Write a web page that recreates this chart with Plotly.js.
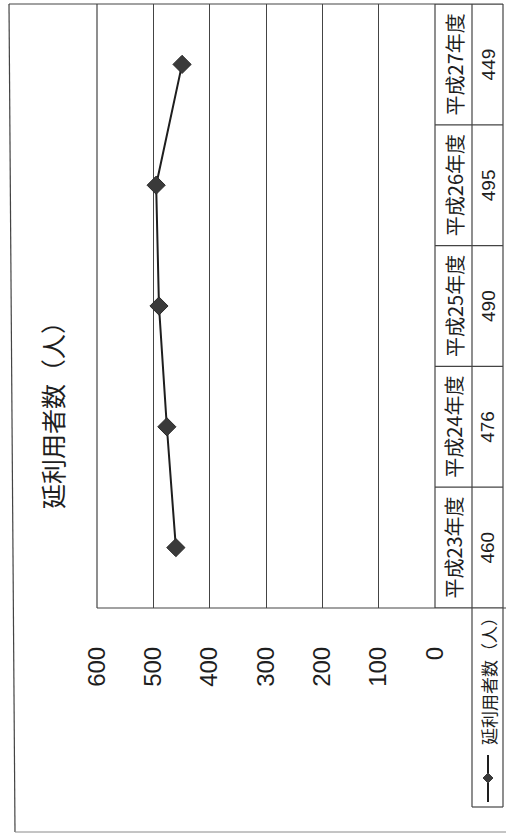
<!DOCTYPE html>
<html>
<head>
<meta charset="utf-8">
<script src="https://cdn.plot.ly/plotly-3.0.1.min.js"></script>
<style>
  html, body { margin: 0; padding: 0; background: #ffffff; }
  #chart { width: 506px; height: 834px; }
</style>
</head>
<body>
<div id="chart"></div>
<script>
// ---- data ----
const categories = ['平成23年度', '平成24年度', '平成25年度', '平成26年度', '平成27年度'];
const values = [460, 476, 490, 495, 449];
const seriesName = '延利用者数（人）';
const chartTitle = '延利用者数（人）';
const tickValues = [0, 100, 200, 300, 400, 500, 600];
const tickLabels = ['0', '100', '200', '300', '400', '500', '600'];

// ---- layout geometry (pixels in the 506x834 page) ----
const W = 506, H = 834;
const plotL = 97, plotR = 435, plotT = 4, plotB = 608;
const pw = plotR - plotL, ph = plotB - plotT;
const px = v => (v - plotL) / pw;          // page x -> paper x
const py = v => (plotB - v) / ph;          // page y -> paper y

const ink = '#1e1e1e';
const lineCol = '#444444';
const cjk = '"Noto Sans CJK JP", "Noto Sans", sans-serif';
const digits = '"Liberation Sans", Arial, sans-serif';

const colA = px(plotR), colB = px(472), colC = px(503);

const shapes = [];
const L = (x0, y0, x1, y1, extra) => Object.assign({type:'line', xref:'paper', yref:'paper', x0, y0, x1, y1, line:{color:lineCol, width:1.2}}, extra || {});
// outer frame
shapes.push(L(px(9), 1, px(15), py(832)));
shapes.push(L(px(9), 1, colC, 1));
shapes.push(L(px(15), py(832), px(506), py(832), {line:{color:'#8a8a8a', width:1}}));
// plot left border (600 line) and bottom extended through table
shapes.push(L(0, 0, 0, 1));
shapes.push(L(0, 0, px(506), 0));
// table verticals
shapes.push(L(colA, 0, colA, 1));
shapes.push(L(colB, py(807), colB, 1));
shapes.push(L(colC, py(807), colC, 1));
// legend cell bottom
shapes.push(L(colB, py(807), colC, py(807)));
// table row dividers at category boundaries
for (let i = 0; i <= categories.length; i++) {
  shapes.push({type:'line', xref:'paper', yref:'y', x0:colA, x1:colC, y0:i - 0.5, y1:i - 0.5, line:{color:lineCol, width:1.2}});
}
// legend key: line + diamond
const keyX = px(488);
shapes.push(L(keyX, py(755), keyX, py(802), {line:{color:ink, width:2}}));
shapes.push({type:'path', xref:'paper', yref:'paper', xsizemode:'pixel', ysizemode:'pixel',
  xanchor:keyX, yanchor:py(778), path:'M 0 5 L 5 0 L 0 -5 L -5 0 Z',
  fillcolor:'#3a3a3a', line:{color:'#3a3a3a', width:1}});

const annotations = [];
// title
annotations.push({text: chartTitle, xref:'paper', yref:'paper', x:px(52), y:py(409), showarrow:false,
  textangle:-90, font:{family:cjk, size:25, color:ink}, xanchor:'center', yanchor:'middle'});
// table texts
categories.forEach((c, i) => {
  annotations.push({text:c, xref:'paper', yref:'y', x:px(454), y:i, showarrow:false, textangle:-90,
    font:{family:cjk, size:20, color:ink}, xanchor:'center', yanchor:'middle'});
  annotations.push({text:String(values[i]), xref:'paper', yref:'y', x:px(488), y:i, showarrow:false, textangle:-90,
    font:{family:digits, size:19, color:ink}, xanchor:'center', yanchor:'middle'});
});
// legend text
annotations.push({text: seriesName, xref:'paper', yref:'paper', x:px(488), y:py(677), showarrow:false, textangle:-90,
  font:{family:cjk, size:17, color:ink}, xanchor:'center', yanchor:'middle'});

const trace = {
  type:'scatter', mode:'lines+markers', name: seriesName,
  x: values, y: categories,
  line:{color:ink, width:2},
  marker:{symbol:'diamond', size:14, color:'#3a3a3a', line:{color:'#2a2a2a', width:1}},
  showlegend:false, cliponaxis:false
};

const layout = {
  width: W, height: H,
  margin: {l: plotL, r: W - plotR, t: plotT, b: H - plotB, pad: 0},
  paper_bgcolor: '#ffffff', plot_bgcolor: '#ffffff',
  showlegend: false,
  xaxis: {
    range: [600, 0], tickvals: tickValues, ticktext: tickLabels,
    tickangle: -90, ticks: '', ticklabelstandoff: 33,
    tickfont: {family: digits, size: 24, color: ink},
    showgrid: true, gridcolor: lineCol, gridwidth: 1,
    zeroline: false, showline: false, fixedrange: true
  },
  yaxis: {
    type: 'category', categoryarray: categories, range: [-0.5, 4.5],
    showticklabels: false, ticks: '', showgrid: false, zeroline: false,
    showline: false, fixedrange: true
  },
  shapes: shapes,
  annotations: annotations
};

Plotly.newPlot('chart', [trace], layout, {staticPlot: true, displayModeBar: false});
</script>
</body>
</html>
